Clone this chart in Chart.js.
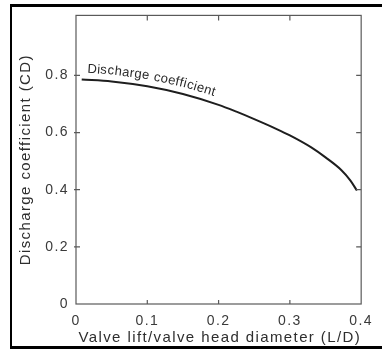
<!DOCTYPE html>
<html>
<head>
<meta charset="utf-8">
<script src="https://cdn.jsdelivr.net/npm/chart.js@4/dist/chart.umd.min.js"></script>
<style>
html,body{margin:0;padding:0;background:#fff;}
canvas{display:block;}
</style>
</head>
<body>
<canvas id="c" width="382" height="349"></canvas>
<script>
// ---- data ----
const liftRatio      = [0.008, 0.05, 0.1, 0.15, 0.2, 0.225, 0.25, 0.28, 0.3, 0.33, 0.35, 0.372, 0.385, 0.394];
const dischargeCoeff = [0.786, 0.779, 0.762, 0.735, 0.697, 0.673, 0.647, 0.614, 0.59, 0.548, 0.513, 0.469, 0.432, 0.397];
const xTickValues = [0, 0.1, 0.2, 0.3, 0.4];
const xTickLabels = ['0', '0.1', '0.2', '0.3', '0.4'];
const yTickValues = [0, 0.2, 0.4, 0.6, 0.8];
const yTickLabels = ['0', '0.2', '0.4', '0.6', '0.8'];
const curveLabel = 'Discharge coefficient';
const xTitle = 'Valve lift/valve head diameter (L/D)';
const yTitle = 'Discharge coefficient (CD)';

const FONT = '"Liberation Sans", Arial, Helvetica, sans-serif';

const framePlugin = {
  id: 'framePlugin',
  beforeUpdate(chart) { chart.ctx.letterSpacing = '1.4px'; },
  beforeDraw(chart) {
    chart.ctx.letterSpacing = '1.4px';
  },
  afterDraw(chart) {
    const {ctx, chartArea: a, scales: {x, y}} = chart;
    ctx.save();
    ctx.letterSpacing = '0px';
    // plot box
    ctx.strokeStyle = '#5a5a5a';
    ctx.lineWidth = 1.2;
    ctx.strokeRect(a.left, a.top, a.right - a.left, a.bottom - a.top);
    // tick marks
    ctx.beginPath();
    yTickValues.forEach(v => {
      if (v === 0) return;
      const py = y.getPixelForValue(v);
      ctx.moveTo(a.left - 2, py); ctx.lineTo(a.left + 4, py);
      ctx.moveTo(a.right - 5, py); ctx.lineTo(a.right, py);
    });
    xTickValues.forEach(v => {
      if (v === 0 || v === 0.4) return;
      const px = x.getPixelForValue(v);
      ctx.moveTo(px, a.bottom); ctx.lineTo(px, a.bottom - 4);
      ctx.moveTo(px, a.top); ctx.lineTo(px, a.top + 5);
    });
    ctx.stroke();

    // outer black frame (scan border)
    ctx.fillStyle = '#000';
    ctx.fillRect(10, 4, 2, 345);
    ctx.fillRect(10, 4, 372, 3);
    ctx.fillRect(10, 346, 372, 3);

    // label following the curve
    const meta = chart.getDatasetMeta(0);
    const pts = meta.data.map(p => ({x: p.x, y: p.y}));
    const cum = [0];
    for (let i = 1; i < pts.length; i++) {
      cum.push(cum[i - 1] + Math.hypot(pts[i].x - pts[i - 1].x, pts[i].y - pts[i - 1].y));
    }
    const at = s => {
      s = Math.max(0, Math.min(cum[cum.length - 1], s));
      let i = 1;
      while (i < cum.length - 1 && cum[i] < s) i++;
      const t = (s - cum[i - 1]) / (cum[i] - cum[i - 1]);
      return {x: pts[i - 1].x + (pts[i].x - pts[i - 1].x) * t,
              y: pts[i - 1].y + (pts[i].y - pts[i - 1].y) * t};
    };
    ctx.font = '13px ' + FONT;
    ctx.fillStyle = '#2a2a2a';
    ctx.textBaseline = 'alphabetic';
    let s = 5;
    const spacing = 0.35, off = 7;
    for (const ch of curveLabel) {
      const w = ctx.measureText(ch).width;
      const mid = s + w / 2;
      const p = at(mid);
      const p1 = at(mid - 8), p2 = at(mid + 8);
      const ang = Math.atan2(p2.y - p1.y, p2.x - p1.x);
      ctx.save();
      ctx.translate(p.x + Math.sin(ang) * off, p.y - Math.cos(ang) * off);
      ctx.rotate(ang);
      ctx.fillText(ch, -w / 2, 0);
      ctx.restore();
      s += w + spacing;
    }
    ctx.restore();
  }
};

new Chart(document.getElementById('c'), {
  type: 'line',
  data: {
    datasets: [{
      data: liftRatio.map((v, i) => ({x: v, y: dischargeCoeff[i]})),
      borderColor: '#1e1e1e',
      borderWidth: 2,
      pointRadius: 0,
      cubicInterpolationMode: 'monotone',
      fill: false
    }]
  },
  options: {
    responsive: false,
    animation: false,
    devicePixelRatio: 1,
    layout: {padding: {left: 0, top: 11, right: 15, bottom: 0}},
    plugins: {legend: {display: false}, tooltip: {enabled: false}},
    scales: {
      x: {
        type: 'linear', min: 0, max: 0.4,
        afterBuildTicks: s => { s.ticks = xTickValues.map(v => ({value: v})); },
        afterFit: s => { s.height = 45; },
        grid: {display: false, drawTicks: false},
        border: {display: false},
        ticks: {
          padding: 9, color: '#3a3a3a', maxRotation: 0, autoSkip: false,
          font: {family: FONT, size: 14},
          callback: (v, i) => xTickLabels[i]
        },
        title: {
          display: true, text: xTitle, align: 'end', color: '#2e2e2e',
          font: {family: FONT, size: 15},
          padding: {top: 0, bottom: 2}
        }
      },
      y: {
        type: 'linear', min: 0, max: 1.01,
        afterBuildTicks: s => { s.ticks = yTickValues.map(v => ({value: v})); },
        afterFit: s => { s.width = 76; },
        grid: {display: false, drawTicks: false},
        border: {display: false},
        ticks: {
          padding: 7, color: '#3a3a3a', autoSkip: false,
          font: {family: FONT, size: 14},
          callback: (v, i) => yTickLabels[i]
        },
        title: {
          display: true, text: yTitle, color: '#2e2e2e',
          font: {family: FONT, size: 15},
          padding: {top: 17, bottom: 0}
        }
      }
    }
  },
  plugins: [framePlugin]
});
</script>
</body>
</html>
